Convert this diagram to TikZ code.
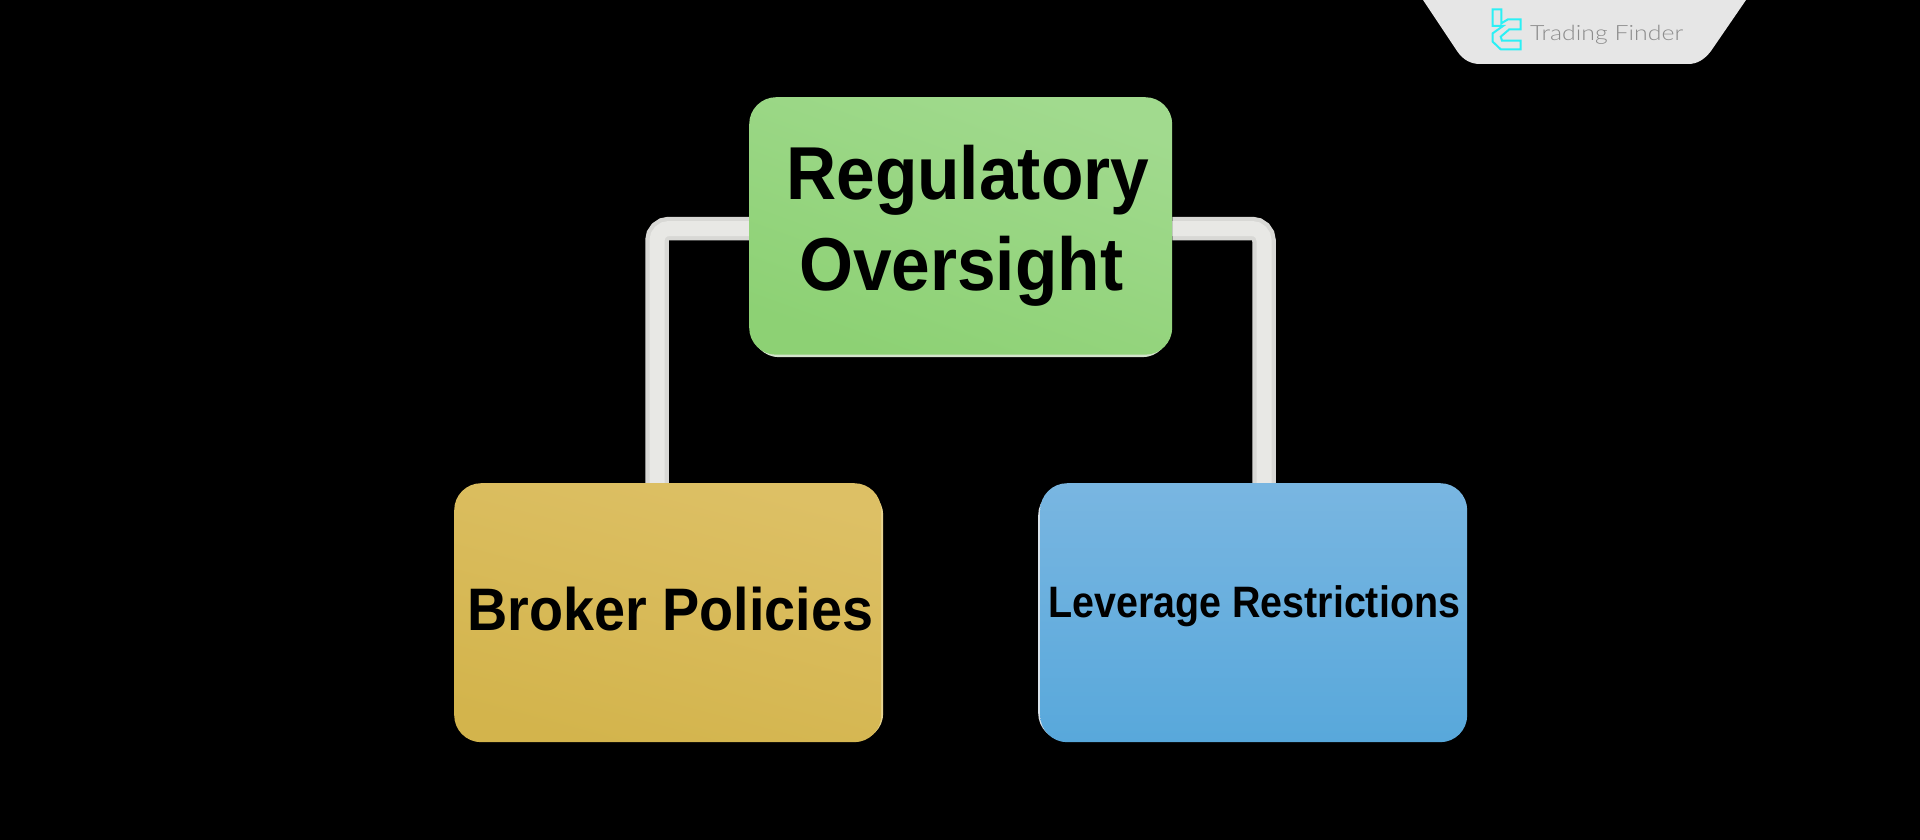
\documentclass[tikz,border=0pt]{standalone}
\usepackage{fontspec}
\usepackage{graphicx}
\setmainfont{Liberation Sans}
\newfontfamily\logofont{Lato Light}
\newsavebox{\fitbox}
\newcommand{\fitw}[3]{\sbox{\fitbox}{\fontsize{#2}{#2}\selectfont #3}\resizebox{#1}{\ht\fitbox}{\usebox{\fitbox}}}
\definecolor{pipeedge}{HTML}{D8D8D5}
\definecolor{pipecore}{HTML}{E8E8E5}
\definecolor{tabfill}{HTML}{E6E6E6}
\definecolor{logocyan}{HTML}{2CF0F5}
\definecolor{logotext}{HTML}{8C8C8C}
\definecolor{greenL}{HTML}{8DD174}
\definecolor{greenR}{HTML}{A1DA8E}
\definecolor{greenRim}{HTML}{D4E4CC}
\definecolor{yellowL}{HTML}{D3B44C}
\definecolor{yellowR}{HTML}{DDC065}
\definecolor{yellowRim}{HTML}{E8D490}
\definecolor{blueT}{HTML}{79B6E1}
\definecolor{blueB}{HTML}{58A8DB}
\definecolor{blueRim}{HTML}{D8E2EA}
\pgfdeclarelayer{backdrop}
\pgfdeclarelayer{pipes}
\pgfsetlayers{backdrop,pipes,main}
\tikzset{
  boxbase/.style={rounded corners=27pt,inner sep=0pt,anchor=north west},
  pipeouter/.style={draw=pipeedge,line width=23.5pt,rounded corners=12pt},
  pipeinner/.style={draw=pipecore,line width=15pt,rounded corners=12pt},
  lbl/.style={inner sep=0pt,anchor=base west,text=black,font=\bfseries},
  logoline/.style={draw=logocyan,line width=2pt,line join=miter}
}
\begin{document}
\begin{tikzpicture}[x=1pt,y=-1pt]
\useasboundingbox (0,0) rectangle (1920,840);
\begin{pgfonlayer}{backdrop}
\fill[black] (0,0) rectangle (1920,840);
\end{pgfonlayer}
% rims
\node[boxbase,fill=greenRim,minimum width=417pt,minimum height=255pt] (greenrim) at (752,102) {};
\node[boxbase,fill=yellowRim,minimum width=423pt,minimum height=252pt] (yellowrim) at (460,488) {};
\node[boxbase,fill=blueRim,minimum width=420pt,minimum height=252pt] (bluerim) at (1038,488) {};
% main boxes
\node[boxbase,left color=greenR,right color=greenL,shading angle=-20,minimum width=423pt,minimum height=257.5pt] (green) at (749,97) {};
\node[boxbase,left color=yellowR,right color=yellowL,shading angle=-15,minimum width=427pt,minimum height=259pt] (yellow) at (454,483) {};
\node[boxbase,top color=blueT,bottom color=blueB,minimum width=427pt,minimum height=259pt] (blue) at (1040,483) {};
% connectors, drawn behind the boxes
\coordinate (ljoint) at (657,228.5);
\coordinate (rjoint) at (1264,228.5);
\begin{pgfonlayer}{pipes}
\draw[pipeouter] (green.west |- ljoint) -- (ljoint) -- (ljoint |- yellow.north);
\draw[pipeinner] (green.west |- ljoint) -- (ljoint) -- (ljoint |- yellow.north);
\draw[pipeouter] (green.east |- rjoint) -- (rjoint) -- (rjoint |- blue.north);
\draw[pipeinner] (green.east |- rjoint) -- (rjoint) -- (rjoint |- blue.north);
\end{pgfonlayer}
% labels
\node[lbl] (t1) at (786,200) {\fitw{363pt}{75pt}{Regulatory}};
\node[lbl] (t2) at (799,290) {\fitw{324pt}{75pt}{Oversight}};
\node[lbl] (t3) at (467,630) {\fitw{406pt}{60pt}{Broker Policies}};
\node[lbl] (t4) at (1048,617) {\fitw{412pt}{44pt}{Leverage Restrictions}};
% logo tab
\fill[tabfill] (1423,0) -- (1746,0) -- (1711,51) .. controls (1704,60) and (1697,64) .. (1688,64)
  -- (1480,64) .. controls (1471,64) and (1463,60) .. (1457,51) -- cycle;
\draw[logoline] (1492.7,9.3) -- (1501.3,9.3) -- (1501.3,23.3) -- (1508,19.3) -- (1520.7,19.3) -- (1520.7,29.3)
  -- (1509.3,29.3) -- (1500.7,36.7) -- (1502,40.7) -- (1520.7,40.7) -- (1520.7,49.3) -- (1500.7,49.3)
  -- (1492.7,41.7) -- (1492.7,33.3) -- (1503,26) -- (1492.7,26) -- cycle;
\node[inner sep=0pt,anchor=base west,text=logotext] (brand) at (1530,41) {\logofont\fitw{153pt}{21pt}{Trading Finder}};
\end{tikzpicture}
\end{document}
